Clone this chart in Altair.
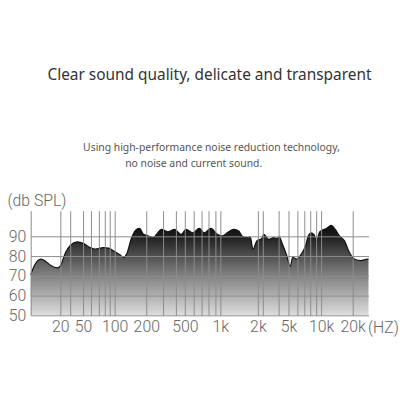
import altair as alt
import pandas as pd

# Frequency response curve (Hz, dB SPL)
freq = [10, 10.9, 12.7, 14.2, 16, 18.7, 20.2, 24.7, 30.1, 39.4,
        50.8, 58.6, 65.3, 78.3, 87.2, 97.3, 112, 122, 130, 145,
        161, 173, 187, 210, 236, 255, 287, 335, 393, 458,
        513, 583, 664, 730, 830, 944, 1037, 1136, 1284, 1406,
        1494, 1637, 1738, 1826, 1963, 2250, 2388, 2768, 3210, 3540,
        3798, 4104, 4752, 5180, 5472, 5952, 6610, 7191, 7610, 8055,
        8634, 9058, 9730, 11220, 12500, 13630, 14990, 16710, 18620, 20480,
        22460, 24660, 25000]
spl = [70.5, 75.2, 78.5, 77.3, 75.2, 74.0, 75.2, 81.8, 85.5, 87.2,
       86.3, 84.3, 83.5, 84.3, 84.0, 82.7, 80.7, 79.3, 81.0, 89.3,
       93.5, 94.0, 91.2, 90.2, 89.3, 91.0, 93.5, 92.3, 93.5, 91.0,
       93.5, 91.8, 94.0, 91.8, 94.0, 91.0, 90.2, 91.8, 93.5, 92.7,
       90.2, 89.3, 89.7, 83.5, 87.7, 89.0, 91.0, 88.5, 89.3, 89.0,
       89.7, 86.8, 80.2, 74.7, 79.3, 78.5, 81.3, 85.2, 90.2, 91.8,
       90.7, 87.7, 92.3, 94.0, 95.5, 93.5, 90.2, 87.7, 81.8, 78.5,
       77.7, 78.5, 78.5]

# Axis ticks / gridlines
grid_freqs = [10, 20, 30, 50, 60, 70, 80, 90, 100, 200, 300, 400, 500, 600, 700,
              800, 900, 1000, 2000, 2300, 3700, 5000, 6000, 7000, 8000, 9000,
              10000, 20000]
label_freqs = [20, 50, 100, 200, 500, 1000, 2000, 5000, 10000, 20000]
y_ticks = [50, 60, 70, 80, 90]
y_floor = 50

# The illustration's frequency axis is a stretched log axis
scale_knots = [10, 20, 50, 100, 200, 500, 1000, 2000, 5000, 10000, 20000, 25000]
scale_px = [0, 30, 53, 85, 117, 156, 192, 230, 261, 294, 326, 342]

title_text = "Clear sound quality, delicate and transparent"
sub_line1 = "Using high-performance noise reduction technology,"
sub_line2 = "no noise and current sound."

W, H = 342, 106
df = pd.DataFrame({"f": freq, "db": spl})

label_list = ",".join(str(v) for v in label_freqs)
label_expr = (f"indexof([{label_list}], datum.value) >= 0 ? "
              "(datum.value >= 1000 ? (datum.value / 1000) + 'k' : datum.value) : ''")

xscale = alt.Scale(type="log", domain=scale_knots, range=scale_px, nice=False)
yscale = alt.Scale(domain=[50, 103], nice=False, zero=False)

FONT = "Roboto"
AX = "#666666"

x_axis = alt.Axis(values=grid_freqs, labelExpr=label_expr, grid=True, gridColor="#8c8c8c",
                  gridWidth=1, domain=False, ticks=False, tickSize=0,
                  labelOverlap=False, labelFlush=False, labelBaseline="alphabetic",
                  labelPadding=16, labelFontSize=16, labelFont=FONT, labelFontWeight=300,
                  labelColor=AX, title="(HZ)", titleX=341, titleY=17, titleAlign="left",
                  titleBaseline="alphabetic", titleFontSize=16, titleFont=FONT,
                  titleFontWeight=300, titleColor=AX, zindex=1)
y_axis = alt.Axis(values=y_ticks, grid=True, gridColor="#8c8c8c", gridWidth=1,
                  domain=False, ticks=False, tickSize=0, labelPadding=5,
                  labelOverlap=False, labelFlush=False, labelBound=False,
                  labelFontSize=16, labelFont=FONT, labelFontWeight=300, labelColor=AX,
                  labelBaseline="middle", title="(db SPL)", titleAngle=0, titleAlign="left",
                  titleBaseline="alphabetic", titleX=-24, titleY=-5, titleFontSize=16,
                  titleFont=FONT, titleFontWeight=300, titleColor=AX, zindex=1)

grad = alt.Gradient(
    gradient="linear",
    stops=[alt.GradientStop(color="#0b0b0b", offset=0),
           alt.GradientStop(color="#222222", offset=0.14),
           alt.GradientStop(color="#555555", offset=0.36),
           alt.GradientStop(color="#868686", offset=0.58),
           alt.GradientStop(color="#b3b3b3", offset=0.8),
           alt.GradientStop(color="#dddddd", offset=1)],
    x1=1, x2=1, y1=0, y2=1)

area = alt.Chart(df).mark_area(color=grad, interpolate="monotone").encode(
    x=alt.X("f:Q", scale=xscale, axis=x_axis),
    y=alt.Y("db:Q", scale=yscale, axis=y_axis),
    y2=alt.datum(y_floor),
)
edge = alt.Chart(df).mark_line(color="#111111", strokeWidth=1.2, interpolate="monotone").encode(
    x=alt.X("f:Q", scale=xscale, axis=x_axis),
    y=alt.Y("db:Q", scale=yscale, axis=y_axis),
)

def text_layer(txt, x, y, size, color):
    return alt.Chart(pd.DataFrame({"t": [txt]})).mark_text(
        font="Noto Sans", fontSize=size, color=color, align="center",
        baseline="alphabetic").encode(text="t:N", x=alt.value(x), y=alt.value(y))

t1 = text_layer(title_text, 181, -132, 15.6, "#333333")
t2 = text_layer(sub_line1, 183, -60, 10.5, "#555555")
t3 = text_layer(sub_line2, 165, -44, 10.5, "#555555")

chart = alt.layer(area, edge, t1, t2, t3).properties(
    width=W, height=H,
    autosize=alt.AutoSizeParams(type="none"),
    padding={"left": 23, "top": 203, "right": 40, "bottom": 40},
    background="white",
).configure_view(stroke=None).configure_axis(labelOverlap=False)

chart.save("out.html", embed_options={"renderer": "svg", "actions": False})
